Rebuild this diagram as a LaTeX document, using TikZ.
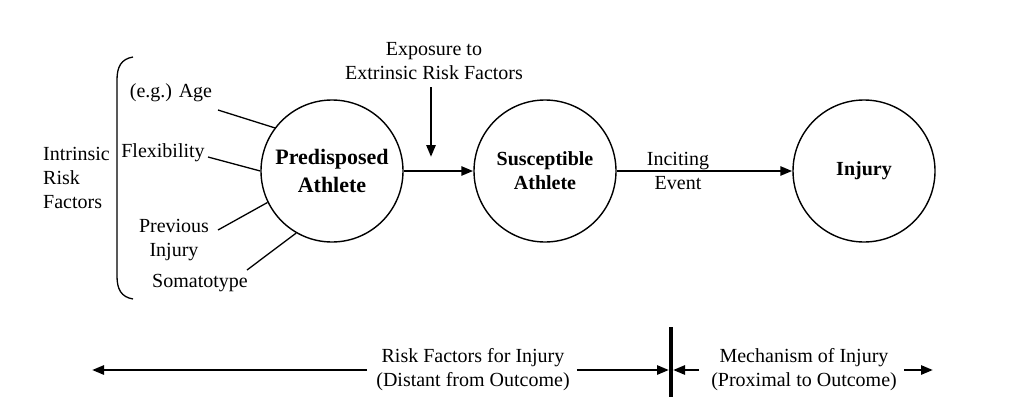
\documentclass[tikz,border=0pt]{standalone}
\usepackage{fontspec}
\setmainfont{Liberation Serif}
\usetikzlibrary{arrows.meta}
\begin{document}
\begin{tikzpicture}[x=1pt,y=-1pt,
  circ/.style={draw, circle, line width=1.4pt, minimum size=142pt, inner sep=0pt, align=center, font=\fontsize{20}{24}\selectfont\bfseries},
  lbl/.style={inner sep=0pt, align=center, font=\fontsize{20}{24}\selectfont},
  thinline/.style={line width=1.3pt},
  arr/.style={line width=2.6pt, -{Triangle[length=12pt,width=9pt]}},
]
\useasboundingbox (0,0) rectangle (1024,410);
% circles
\node[circ, font=\fontsize{22}{28}\selectfont\bfseries] (pa) at (332,171) {Predisposed\\Athlete};
\node[circ] (sa) at (545,171) {Susceptible\\Athlete};
\node[circ] (inj) at (864,171) {Injury};
% main arrows
\draw[arr] (pa) -- (sa);
\draw[arr] (sa) -- (inj);
\node[lbl] (inc) at (678,171) {Inciting\\Event};
% exposure
\node[lbl] (ex) at (434,61) {Exposure to\\Extrinsic Risk Factors};
\coordinate (exs) at (431,87);
\coordinate (exe) at (431,157);
\draw[arr] (exs) -- (exe);
% intrinsic factors
\node[lbl, anchor=west, align=left] (intr) at (43,178) {Intrinsic\\Risk\\Factors};
\draw[thinline] (133,57) .. controls (121,59) and (117,67) .. (117,80) -- (117,276) .. controls (117,289) and (121,297) .. (133,299);
\node[lbl] (age) at (171,93) {(e.g.) Age};
\node[lbl] (flex) at (163,153) {Flexibility};
\node[lbl] (prev) at (174,240) {Previous\\Injury};
\node[lbl] (soma) at (200,283) {Somatotype};
\coordinate (agel) at (218,110);
\coordinate (flexl) at (208,157);
\coordinate (prevl) at (218,230);
\coordinate (somal) at (247,270);
\draw[thinline] (agel) -- (pa.143);
\draw[thinline] (flexl) -- (pa.180);
\draw[thinline] (prevl) -- (pa.206);
\draw[thinline] (somal) -- (pa.240);
% bottom scale
\node[lbl] (rf) at (473,370) {Risk Factors for Injury\\(Distant from Outcome)};
\node[lbl] (mech) at (804,370) {Mechanism of Injury\\(Proximal to Outcome)};
\coordinate (lend) at (92,370);
\coordinate (bart) at (671,327);
\coordinate (barb) at (671,397);
\coordinate (barl) at (669,370);
\coordinate (barr) at (673,370);
\coordinate (rend) at (933,370);
\draw[line width=4pt] (bart) -- (barb);
\draw[arr] ([xshift=-9pt]rf.west) -- (lend);
\draw[arr] ([xshift=7pt]rf.east) -- (barl);
\draw[arr] ([xshift=-12pt]mech.west) -- (barr);
\draw[arr] ([xshift=7pt]mech.east) -- (rend);
\end{tikzpicture}
\end{document}
